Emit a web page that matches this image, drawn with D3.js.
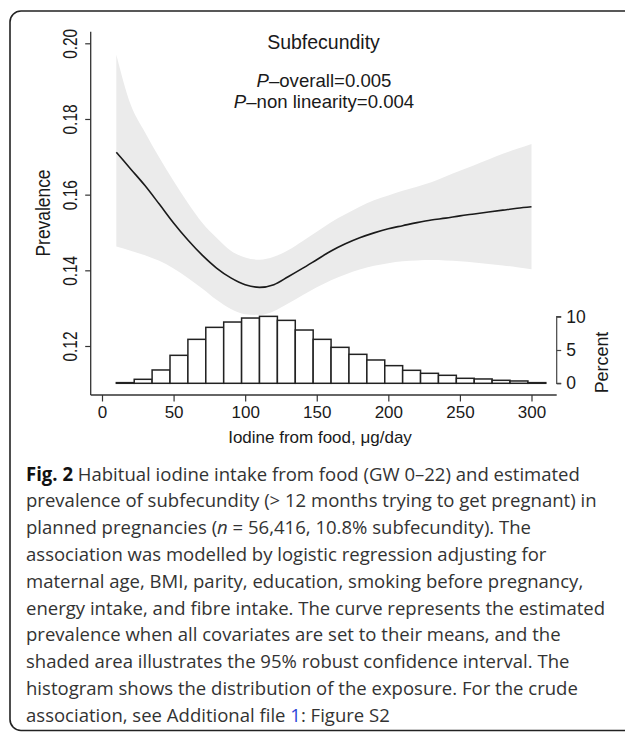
<!DOCTYPE html>
<html><head><meta charset="utf-8">
<script src="https://cdn.jsdelivr.net/npm/d3@7"></script>
<style>
html,body{margin:0;padding:0;background:#fff;}
svg{display:block;}
</style></head>
<body>
<svg id="c" width="625" height="732"></svg>
<script>
// ---- data ----
const curveX = [10,20,30,40,50,60,70,80,90,100,110,120,130,140,150,160,170,180,190,200,210,220,230,240,250,260,270,280,290,300];
const fitValues = [0.1712,0.1668,0.1624,0.1575,0.1525,0.1480,0.1440,0.1406,0.1380,0.1362,0.1355,0.1362,0.1383,0.1405,0.1428,0.1451,0.1470,0.1486,0.1499,0.1510,0.1518,0.1526,0.1533,0.1538,0.1544,0.1549,0.1554,0.1559,0.1564,0.1568];
const upperCI = [0.1970,0.1838,0.1765,0.1698,0.1636,0.1578,0.1526,0.1486,0.1452,0.1434,0.1428,0.1436,0.1453,0.1477,0.1502,0.1527,0.1548,0.1568,0.1585,0.1598,0.1610,0.1621,0.1633,0.1648,0.1663,0.1678,0.1693,0.1708,0.1721,0.1734];
const lowerCI = [0.1463,0.1452,0.1440,0.1425,0.1405,0.1380,0.1352,0.1322,0.1298,0.1284,0.1282,0.1292,0.1312,0.1334,0.1355,0.1374,0.1389,0.1402,0.1412,0.1419,0.1424,0.1426,0.1427,0.1426,0.1424,0.1421,0.1417,0.1413,0.1408,0.1403];
const binStart = [10,22.5,35,47.5,60,72.5,85,97.5,110,122.5,135,147.5,160,172.5,185,197.5,210,222.5,235,247.5,260,272.5,285,297.5];
const binWidth = 12.5;
const binPercent = [0.1,0.6,2.0,4.2,6.6,8.4,9.2,9.8,10.05,9.45,8.0,6.6,5.4,4.35,3.5,2.65,1.95,1.5,1.2,0.75,0.65,0.45,0.35,0.1];
const xTicks = [0,50,100,150,200,250,300];
const yTicks = [0.12,0.14,0.16,0.18,0.20];
const pctTicks = [0,5,10];
const titleText = "Subfecundity";
const pOverall = "0.005";
const pNonLin = "0.004";
const captionLines = [
  "Habitual iodine intake from food (GW 0–22) and estimated",
  "prevalence of subfecundity (> 12 months trying to get pregnant) in",
  "planned pregnancies (n = 56,416, 10.8% subfecundity). The",
  "association was modelled by logistic regression adjusting for",
  "maternal age, BMI, parity, education, smoking before pregnancy,",
  "energy intake, and fibre intake. The curve represents the estimated",
  "prevalence when all covariates are set to their means, and the",
  "shaded area illustrates the 95% robust confidence interval. The",
  "histogram shows the distribution of the exposure. For the crude",
  "association, see Additional file 1: Figure S2"
];

// ---- drawing ----
const svg = d3.select("#c");
const chartFont = "'Liberation Sans', Arial, Helvetica, sans-serif";
const ink = "#1a1a1a";

// frame
svg.append("rect").attr("x",10).attr("y",11).attr("width",640).attr("height",719.5)
  .attr("rx",11).attr("fill","none").attr("stroke","#222").attr("stroke-width",1.6);

const x = d3.scaleLinear().domain([0,300]).range([102,531.5]);
const y = d3.scaleLinear().domain([0.12,0.20]).range([346,43.3]);
const yp = d3.scaleLinear().domain([0,10]).range([383.3,316.7]);

const pts = curveX.map((v,i)=>({x:v,f:fitValues[i],lo:lowerCI[i],hi:upperCI[i]}));

// CI band
svg.append("path").datum(pts)
  .attr("d", d3.area().x(d=>x(d.x)).y0(d=>y(d.lo)).y1(d=>y(d.hi)).curve(d3.curveMonotoneX))
  .attr("fill","#ebebeb");

// histogram
svg.append("g").selectAll("rect").data(binStart).join("rect")
  .attr("x", d=>x(d))
  .attr("width", d=>x(d+binWidth)-x(d))
  .attr("y", (d,i)=>yp(binPercent[i]))
  .attr("height", (d,i)=>yp(0)-yp(binPercent[i]))
  .attr("fill","#fff").attr("stroke","#222").attr("stroke-width",1.5);

// fitted curve
svg.append("path").datum(pts)
  .attr("d", d3.line().x(d=>x(d.x)).y(d=>y(d.f)).curve(d3.curveMonotoneX))
  .attr("fill","none").attr("stroke",ink).attr("stroke-width",1.6);

// x axis
const xAxis = svg.append("g").attr("transform","translate(0,395)")
  .call(d3.axisBottom(x).tickValues(xTicks).tickSize(6.5).tickPadding(4).tickFormat(d3.format("d")));
xAxis.select(".domain").remove();
xAxis.append("line").attr("x1",90.7).attr("x2",556.7).attr("y1",0).attr("y2",0).attr("stroke","#333").attr("stroke-width",1.3);
xAxis.selectAll(".tick line").attr("stroke","#333").attr("stroke-width",1.2);
xAxis.selectAll(".tick text").attr("font-family",chartFont).attr("font-size",17).attr("fill",ink).attr("dy",null).attr("y",23);

// y axis
const yAxis = svg.append("g").attr("transform","translate(90.7,0)")
  .call(d3.axisLeft(y).tickValues(yTicks).tickSize(5.5).tickFormat(d3.format(".2f")));
yAxis.select(".domain").remove();
yAxis.append("line").attr("x1",0).attr("x2",0).attr("y1",31.7).attr("y2",395).attr("stroke","#333").attr("stroke-width",1.3);
yAxis.selectAll(".tick line").attr("stroke","#333").attr("stroke-width",1.2);
yAxis.selectAll(".tick text")
  .attr("font-family",chartFont).attr("font-size",20).attr("fill",ink)
  .attr("x",null).attr("dy",null)
  .attr("text-anchor","middle")
  .attr("transform","translate(-14,0) rotate(-90)")
  .attr("textLength",30).attr("lengthAdjust","spacingAndGlyphs");

// y title
svg.append("text").attr("transform","translate(50,213) rotate(-90)")
  .attr("text-anchor","middle").attr("font-family",chartFont).attr("font-size",20).attr("fill",ink)
  .attr("textLength",87).attr("lengthAdjust","spacingAndGlyphs").text("Prevalence");

// x title
svg.append("text").attr("x",320).attr("y",443.3).attr("text-anchor","middle")
  .attr("font-family",chartFont).attr("font-size",17).attr("fill",ink).text("Iodine from food, μg/day");

// percent axis
const pAxis = svg.append("g").attr("transform","translate(556.7,0)")
  .call(d3.axisRight(yp).tickValues(pctTicks).tickSize(4.5).tickPadding(5));
pAxis.select(".domain").attr("stroke","#444").attr("stroke-width",1.2).attr("d","M4.5,316.7H0V383.3H4.5");
pAxis.selectAll(".tick line").attr("stroke","#444").attr("stroke-width",1.2);
pAxis.selectAll(".tick text").attr("font-family",chartFont).attr("font-size",17.5).attr("fill",ink);
svg.append("text").attr("transform","translate(608,362.5) rotate(-90)")
  .attr("text-anchor","middle").attr("font-family",chartFont).attr("font-size",18.5).attr("fill",ink)
  .attr("textLength",61.7).attr("lengthAdjust","spacingAndGlyphs").text("Percent");

// title & p values
svg.append("text").attr("x",323.5).attr("y",49).attr("text-anchor","middle")
  .attr("font-family",chartFont).attr("font-size",19.5).attr("fill",ink).text(titleText);
const pLines = [["–overall=", pOverall, 87.2], ["–non linearity=", pNonLin, 107.9]];
pLines.forEach(([lab,val,yy])=>{
  const t = svg.append("text").attr("x",324).attr("y",yy).attr("text-anchor","middle")
    .attr("font-family",chartFont).attr("font-size",18.6).attr("fill",ink);
  t.append("tspan").attr("font-style","italic").text("P");
  t.append("tspan").text(lab + val);
});

// caption: one uniform horizontal scale so the first line spans the reference width
const capFont = "'Open Sans', 'Noto Sans', sans-serif";
const capColor = "#333";
const capTexts = captionLines.map((line,i)=>{
  const t = svg.append("text")
    .attr("font-family",capFont).attr("font-size",19).attr("fill",capColor);
  if(i===0){
    t.append("tspan").attr("font-weight","bold").attr("fill","#111").text("Fig. 2");
    t.append("tspan").text(" " + line);
  } else if(i===2){
    const parts = line.split("n = ");
    t.append("tspan").text(parts[0]);
    t.append("tspan").attr("font-style","italic").text("n");
    t.append("tspan").text(" = " + parts[1]);
  } else if(i===9){
    const parts = line.split("file 1:");
    t.append("tspan").text(parts[0] + "file ");
    t.append("tspan").attr("fill","#2a45d8").text("1");
    t.append("tspan").text(":" + parts[1]);
  } else {
    t.text(line);
  }
  return t;
});
const w1 = capTexts[0].node().getComputedTextLength();
const sx = (580 - 26) / w1;
capTexts.forEach((t,i)=>{
  t.attr("transform", `translate(26,${480.5 + i*26.8}) scale(${sx},1)`);
});
</script>
</body></html>
